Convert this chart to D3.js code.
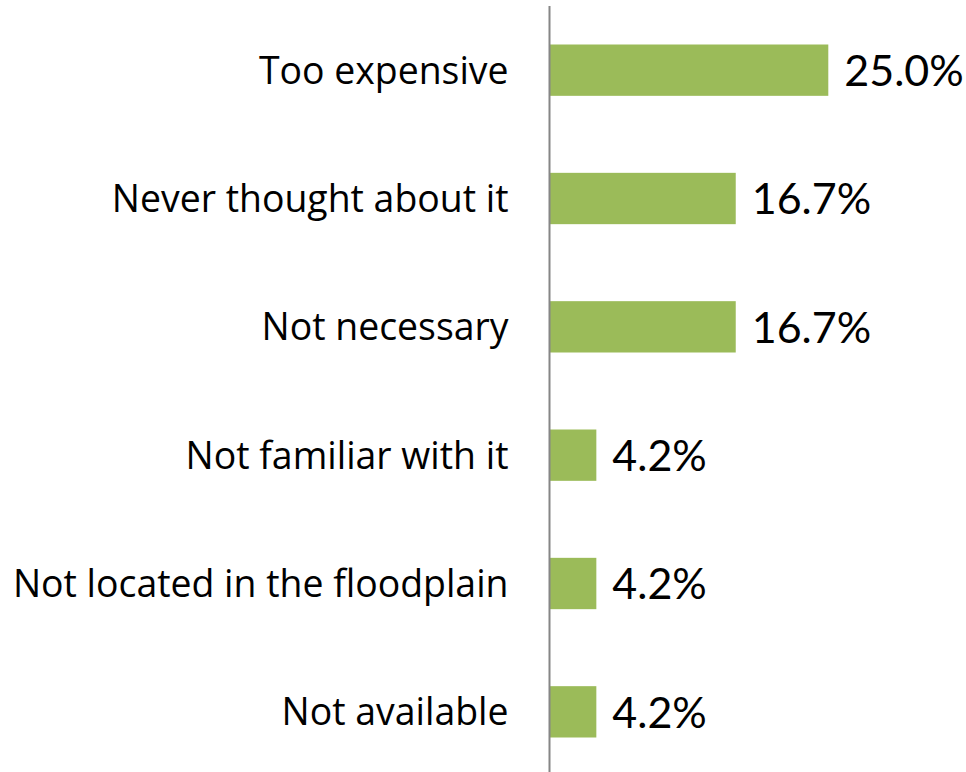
<!DOCTYPE html>
<html>
<head>
<meta charset="utf-8">
<script src="https://cdn.jsdelivr.net/npm/d3@7"></script>
<style>
  html, body { margin: 0; padding: 0; background: #fff; }
  svg { display: block; }
</style>
</head>
<body>
<script>
// Reasons given for not buying the coverage (share of respondents, %)
const categories = [
  "Too expensive",
  "Never thought about it",
  "Not necessary",
  "Not familiar with it",
  "Not located in the floodplain",
  "Not available"
];
const values = [25.0, 16.7, 16.7, 4.2, 4.2, 4.2];

const width = 966, height = 772;
const axisX = 549.5;

const svg = d3.select("body").append("svg")
  .attr("width", width)
  .attr("height", height);

const x = d3.scaleLinear().domain([0, 25]).range([axisX, 828.3]);
const y = d3.scaleBand().domain(categories).range([6, 776]).paddingInner(0.6).paddingOuter(0.3);

const rows = categories.map((c, i) => ({ category: c, value: values[i] }));

// bars
svg.append("g").selectAll("rect")
  .data(rows)
  .join("rect")
  .attr("x", x(0))
  .attr("y", d => y(d.category))
  .attr("width", d => x(d.value) - x(0))
  .attr("height", y.bandwidth())
  .attr("fill", "#9BBB59");

// category axis (line only, labels drawn on the left)
const axis = d3.axisLeft(y).tickSize(0).tickPadding(41);
const gAxis = svg.append("g")
  .attr("transform", `translate(${axisX},0)`)
  .call(axis);
gAxis.select(".domain").remove();
gAxis.selectAll("text")
  .attr("font-family", "'Open Sans', Lato, sans-serif")
  .attr("font-size", 37.4)
  .attr("fill", "#000")
  .attr("dy", "0.36em");

svg.append("line")
  .attr("x1", axisX).attr("x2", axisX)
  .attr("y1", 6).attr("y2", height)
  .attr("stroke", "#868686")
  .attr("stroke-width", 2);

// value labels
svg.append("g").selectAll("text")
  .data(rows)
  .join("text")
  .attr("x", d => x(d.value) + 16)
  .attr("y", d => y(d.category) + y.bandwidth() / 2)
  .attr("dy", "0.37em")
  .attr("font-family", "Lato, 'Open Sans', sans-serif")
  .attr("font-size", 43)
  .attr("fill", "#000")
  .text(d => d.value.toFixed(1) + "%");
</script>
</body>
</html>
